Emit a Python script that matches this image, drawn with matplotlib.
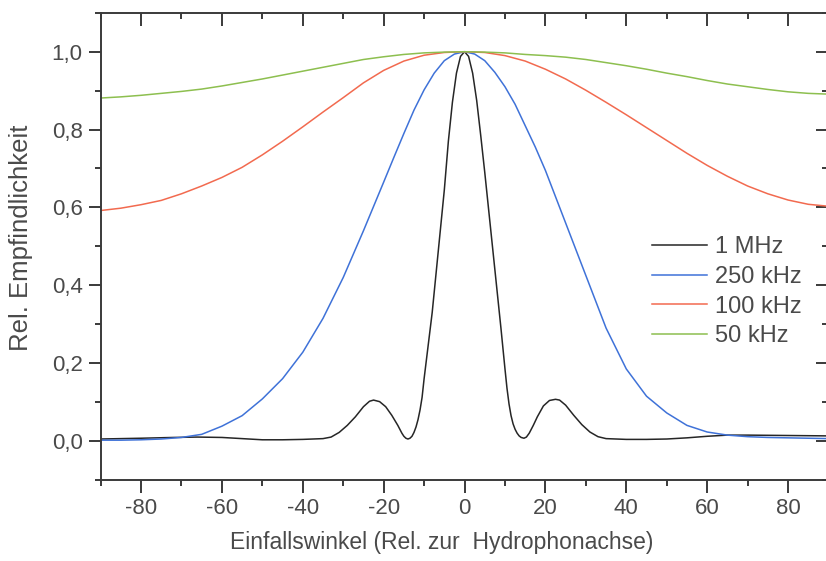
import matplotlib
matplotlib.use("Agg")
import matplotlib.pyplot as plt
from matplotlib.ticker import MultipleLocator, FuncFormatter

# 1 MHz (black)
x_1mhz = [-90, -80, -72, -66, -60, -55, -50, -45, -40, -35, -33, -31, -29, -27,
          -25, -23.5, -22.5, -21, -19.5, -18, -16.5, -15.5, -15, -14.5, -14,
          -13.5, -13, -12.5, -12, -11.5, -11, -10.5, -10, -9, -8, -7, -6, -5,
          -4, -3, -2, -1, 0,
          1, 2, 3, 4, 5, 6, 7, 8, 9, 10, 10.5, 11, 11.5, 12, 12.5, 13, 13.5,
          14, 14.7, 15.3, 16, 17, 18, 19.5, 21, 22.5, 23.5, 25, 27, 29, 31, 33,
          35, 40, 45, 50, 55, 60, 65, 70, 80, 90]
y_1mhz = [0.005, 0.007, 0.009, 0.010, 0.009, 0.006, 0.003, 0.003, 0.004, 0.006,
          0.010, 0.022, 0.040, 0.062, 0.088, 0.102, 0.105, 0.101, 0.088, 0.066,
          0.040, 0.020, 0.012, 0.007, 0.005,
          0.007, 0.012, 0.022, 0.036, 0.055, 0.080, 0.112, 0.160, 0.245, 0.330,
          0.435, 0.540, 0.645, 0.770, 0.870, 0.945, 0.988, 1.0,
          0.988, 0.945, 0.875, 0.785, 0.690, 0.590, 0.490, 0.390, 0.290, 0.185,
          0.135, 0.095, 0.065, 0.044, 0.030, 0.020, 0.013,
          0.009, 0.007, 0.010, 0.020, 0.040, 0.062, 0.090, 0.104, 0.107, 0.105,
          0.092, 0.066, 0.042, 0.023, 0.011,
          0.006, 0.004, 0.004, 0.005, 0.008, 0.012, 0.015, 0.015, 0.014, 0.013]

# 250 kHz (blue)
x_250k = [-90, -85, -80, -75, -70, -65, -60, -55, -50, -45, -40, -35, -30, -25,
          -20, -17.5, -15, -12.5, -10, -7.5, -5, -2.5, 0, 2.5, 5, 7.5, 10, 12.5,
          15, 17.5, 20, 25, 30, 35, 40, 45, 50, 55, 60, 65, 70, 75, 80, 85, 90]
y_250k = [0.002, 0.002, 0.003, 0.005, 0.009, 0.017, 0.038, 0.065, 0.108, 0.160,
          0.228, 0.315, 0.420, 0.540, 0.665, 0.728, 0.790, 0.850, 0.902, 0.945,
          0.977, 0.994, 1.0, 0.994, 0.977, 0.947, 0.910, 0.865, 0.810, 0.755,
          0.695, 0.560, 0.425, 0.290, 0.185, 0.115, 0.072, 0.040, 0.023, 0.015,
          0.011, 0.009, 0.008, 0.007, 0.006]

# 100 kHz (red)
x_100k = [-90, -85, -80, -75, -70, -65, -60, -55, -50, -45, -40, -35, -30, -25,
          -20, -15, -10, -5, 0, 5, 10, 15, 20, 25, 30, 35, 40, 45, 50, 55, 60,
          65, 70, 75, 80, 85, 90]
y_100k = [0.592, 0.598, 0.607, 0.618, 0.635, 0.655, 0.677, 0.703, 0.735, 0.770,
          0.807, 0.845, 0.882, 0.920, 0.952, 0.976, 0.991, 0.998, 1.0, 0.998,
          0.990, 0.976, 0.955, 0.930, 0.901, 0.870, 0.838, 0.805, 0.772, 0.739,
          0.708, 0.680, 0.655, 0.635, 0.619, 0.608, 0.603]

# 50 kHz (green)
x_50k = [-90, -85, -80, -75, -70, -65, -60, -55, -50, -45, -40, -35, -30, -25,
         -20, -15, -10, -5, 0, 5, 10, 15, 20, 25, 30, 35, 40, 45, 50, 55, 60,
         65, 70, 75, 80, 85, 90]
y_50k = [0.881, 0.884, 0.888, 0.893, 0.898, 0.904, 0.912, 0.921, 0.930, 0.940,
         0.950, 0.960, 0.970, 0.980, 0.987, 0.993, 0.997, 0.999, 1.0, 0.999,
         0.997, 0.993, 0.990, 0.986, 0.980, 0.972, 0.964, 0.955, 0.945, 0.936,
         0.926, 0.917, 0.910, 0.903, 0.897, 0.893, 0.891]

series = [
    ("1 MHz", x_1mhz, y_1mhz, "#262626"),
    ("250 kHz", x_250k, y_250k, "#3f72d8"),
    ("100 kHz", x_100k, y_100k, "#f26a4f"),
    ("50 kHz", x_50k, y_50k, "#8dbf4f"),
]

plt.rcParams["font.family"] = ["Liberation Sans", "DejaVu Sans"]
text_col = "#4a4a4a"
axis_col = "#3a3a3a"

fig = plt.figure(figsize=(8.26, 5.61), dpi=100)
ax = fig.add_axes([0.1218, 0.1446, 0.8812, 0.8326])

for label, xs, ys, col in series:
    ax.plot(xs, ys, color=col, lw=1.1, label=label)

ax.set_xlim(-90, 90)
ax.set_ylim(-0.1, 1.1)

ax.xaxis.set_major_locator(MultipleLocator(20))
ax.xaxis.set_minor_locator(MultipleLocator(10))
ax.yaxis.set_major_locator(MultipleLocator(0.2))
ax.yaxis.set_minor_locator(MultipleLocator(0.1))
ax.yaxis.set_major_formatter(FuncFormatter(lambda v, p: f"{v:.1f}".replace(".", ",")))
ax.xaxis.set_major_formatter(FuncFormatter(lambda v, p: f"{v:.0f}"))

ax.tick_params(axis="both", which="major", direction="out", length=9, width=1.4,
               color=axis_col, labelcolor=text_col, labelsize=16, pad=4)
ax.tick_params(axis="both", which="minor", direction="out", length=4, width=1.4,
               color=axis_col)
# top / right ticks point inward
ax.tick_params(axis="x", which="both", top=True)
ax.tick_params(axis="y", which="both", right=True)
for t in ax.xaxis.get_major_ticks() + ax.xaxis.get_minor_ticks():
    t.tick2line.set_marker(3)
for t in ax.yaxis.get_major_ticks() + ax.yaxis.get_minor_ticks():
    t.tick2line.set_marker(0)

for sp in ax.spines.values():
    sp.set_color(axis_col)
    sp.set_linewidth(1.4)

ax.set_xlabel("Einfallswinkel (Rel. zur  Hydrophonachse)", fontsize=16.5,
              color=text_col, va="center")
ax.xaxis.set_label_coords(0.468, -0.135)
ax.set_ylabel("Rel. Empfindlichkeit", fontsize=18.5, color=text_col)
ax.yaxis.set_label_coords(-0.093, 0.518)

leg = ax.legend(loc="upper left", bbox_to_anchor=(0.7575, 0.522), frameon=False,
                fontsize=17, handlelength=2.33, handletextpad=0.34,
                labelspacing=0.33, borderaxespad=0, borderpad=0)
for t in leg.get_texts():
    t.set_color(text_col)

fig.savefig("out.png", dpi=100)
